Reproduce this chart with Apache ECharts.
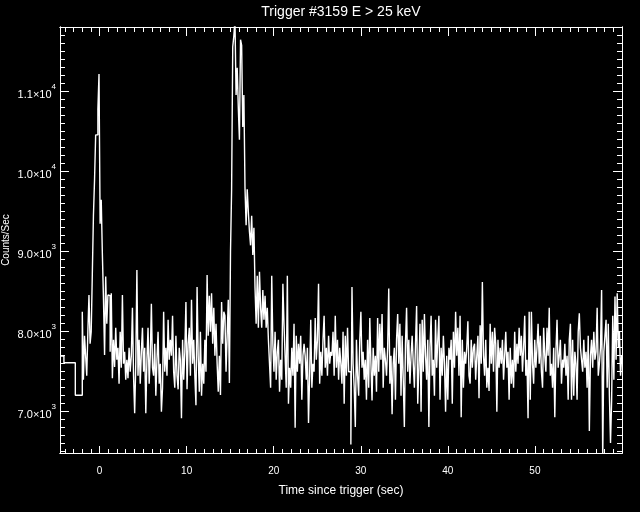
<!DOCTYPE html>
<html><head><meta charset="utf-8">
<script src="https://cdn.jsdelivr.net/npm/echarts@6/dist/echarts.min.js"></script>
<style>html,body{margin:0;padding:0;background:#000}#c{width:640px;height:512px}</style>
</head><body><div id="c"></div>
<script>
// ---- data ----
const titleText = 'Trigger #3159 E > 25 keV';
const xName = 'Time since trigger (sec)';
const yName = 'Counts/Sec';

// coarse pre-trigger bins (edges in s, rates in counts/s)
const preEdges = [-4.55, -4.1, -2.79, -1.99];
const preRate = [7696, 7613, 7205];

// fine bins after -1.99 s
const fineStart = -1.99;
const fineWidth = 0.128;
const rateA = [ // -1.99 .. 8.25 s
  8250, 7400, 7950, 7700, 7450, 8000, 8460, 7850,
  8000, 8720, 9450, 9900, 10460, 10460, 10780, 11220,
  9350, 9650, 8980, 8420, 7710, 8690, 8100, 8460,
  8450, 7750, 8480, 7420, 7900, 7560, 8050, 7650,
  7800, 7350, 8000, 7550, 8460, 7600, 7750, 7400,
  7650, 7420, 7800, 7500, 7700, 8300, 7450, 6980,
  7600, 8770, 7450, 7900, 7350, 7750, 8050, 7500,
  7800, 6980, 7650, 8050, 7350, 7700, 8350, 7550,
  7450, 7850, 7200, 7650, 8000, 7350, 7600, 7000,
  7300, 8250, 7500, 7800, 7450, 8150, 7650, 7900
];
const rateB = [ // 8.25 .. 18.49 s
  7700, 8200, 7500, 7300, 7950, 7450, 7280, 7800,
  7650, 6920, 7900, 7400, 7750, 8370, 7280, 7850,
  8050, 7450, 8400, 7600, 7900, 7450, 7080, 8560,
  7700, 7250, 8000, 7200, 7600, 7350, 7900, 7500,
  8710, 7950, 8450, 8000, 8480, 7850, 8300, 7700,
  8100, 7600, 7250, 7700, 7210, 8370, 7850, 8250,
  8200, 7500, 7950, 8400, 7360, 9000, 9780, 11560,
  11700, 11900, 10960, 11300, 10800, 10400, 11650, 11580,
  10560, 10960, 9800, 9330, 9780, 9500, 9250, 9080,
  9450, 8960, 9300, 8550, 8100, 8700, 8050, 8750
];
const rateC = [ // 18.49 .. 28.74 s
  8300, 8050, 8520, 8150, 8450, 8050, 8300, 7900,
  7600, 7300, 8700, 7850, 7500, 8000, 7400, 7750,
  7900, 7250, 7650, 7400, 8600, 8100, 7700, 7300,
  8700, 7100, 7550, 7300, 7800, 7450, 8100, 6800,
  7950, 7500, 7850, 7600, 7950, 7150, 7700, 7850,
  7700, 7400, 7800, 6860, 7450, 8150, 7300, 7600,
  7500, 8170, 7650, 7900, 8600, 7350, 7750, 7450,
  7900, 8200, 7550, 7800, 7450, 7950, 7600, 7750,
  7700, 8000, 7450, 8200, 7550, 7900, 7400, 7800,
  7600, 7350, 8000, 7100, 7950, 7450, 8050, 7500
];
const rateD = [ // 28.74 .. 38.99 s
  7500, 6590, 8560, 7600, 7300, 6810, 7900, 7450,
  7200, 7900, 8250, 7550, 7750, 7400, 7650, 7150,
  7900, 7300, 8170, 7600, 7140, 7800, 7450, 7700,
  7250, 8170, 7500, 8100, 7650, 8220, 7300, 7800,
  7650, 7450, 7800, 8540, 7350, 7700, 6970, 7600,
  7800, 7150, 7900, 8220, 7600, 8100, 7200, 7950,
  7400, 6810, 7850, 8300, 7500, 7900, 7350, 7700,
  7950, 7600, 7300, 7850, 8320, 7100, 7550, 8100,
  7000, 8150, 7500, 8220, 7700, 7400, 7900, 6810,
  7800, 8200, 7450, 7650, 7200, 8150, 7550, 7900
];
const rateE = [ // 38.99 .. 49.24 s
  8200, 7150, 7800, 7450, 7950, 7600, 7000, 7700,
  7150, 7800, 7650, 7900, 7100, 8000, 7550, 8250,
  7700, 8050, 7450, 8200, 6930, 7900, 7300, 7750,
  7600, 7800, 8130, 7450, 7350, 7900, 7550, 7800,
  7850, 7400, 7700, 7950, 7170, 8080, 7600, 8620,
  7700, 7450, 7900, 7300, 7550, 7260, 8100, 7600,
  8000, 7500, 8050, 7850, 7000, 7900, 7550, 7800,
  7600, 7900, 7400, 7700, 8000, 7550, 7750, 7150,
  7800, 7350, 7650, 7300, 8000, 7500, 7850, 7600,
  8050, 7700, 7950, 7500, 7800, 8200, 7450, 7650
];
const rateF = [ // 49.24 .. 60 s
  6920, 8250, 7150, 8250, 7600, 7350, 7900, 7550,
  7800, 8100, 7600, 7950, 7500, 7300, 8050, 7700,
  7500, 8050, 7700, 8300, 7450, 7600, 7300, 7800,
  6930, 7750, 8150, 7550, 7700, 7900, 7350, 7650,
  7550, 7850, 7450, 7700, 7150, 7900, 8100, 7150,
  7900, 7200, 7750, 7600, 7150, 8000, 8230, 7800,
  7650, 7500, 7900, 7550, 7750, 7300, 7950, 6760,
  7700, 7900, 7550, 8000, 7650, 7750, 8300, 7450,
  7600, 7800, 8520, 6400, 7750, 7950, 8150, 7300,
  8100, 7200, 6610, 7150, 8200, 7400, 8440, 7650,
  8480, 7800, 8000, 7450, 7700
];

// axes
const xMin = -4.55, xMax = 60;
const yMin = 6484, yMax = 11809;
const xMajor = [0, 10, 20, 30, 40, 50];
const yMajor = [7000, 8000, 9000, 10000, 11000];
const yMant = ['7.0', '8.0', '9.0', '1.0', '1.1'];
const yExp = ['3', '3', '3', '4', '4'];

// ---- build ----
const xMinor = []; for (let v = -4; v <= 60; v++) xMinor.push(v);
const yMinor = []; for (let v = 6500; v <= 11800; v += 100) yMinor.push(v);

const pts = [];
for (let i = 0; i < preRate.length; i++) {
  pts.push([preEdges[i], preRate[i]], [preEdges[i + 1], preRate[i]]);
}
const fine = rateA.concat(rateB, rateC, rateD, rateE, rateF);
fine.forEach((v, i) => {
  const s = fineStart + i * fineWidth;
  pts.push([s, v], [s + fineWidth, v]);
});

const FONT = 'Liberation Sans';
const W = '#ffffff';
function xAx(pos, vals, len, labels) {
  return {
    type: 'value', min: xMin, max: xMax, position: pos,
    axisLine: { show: true, onZero: false, lineStyle: { color: W, width: 1 } },
    axisTick: { show: true, inside: true, length: len, customValues: vals, lineStyle: { color: W, width: 1 } },
    axisLabel: labels ? { show: true, customValues: xMajor, color: W, fontSize: 10, fontFamily: FONT, margin: 13 } : { show: false },
    splitLine: { show: false },
    name: labels ? xName : '', nameLocation: 'middle', nameGap: 32, nameMoveOverlap: false,
    nameTextStyle: { color: W, fontSize: 12, fontFamily: FONT }
  };
}
function yAx(pos, vals, len, labels) {
  return {
    type: 'value', min: yMin, max: yMax, position: pos,
    axisLine: { show: true, onZero: false, lineStyle: { color: W, width: 1 } },
    axisTick: { show: true, inside: true, length: len, customValues: vals, lineStyle: { color: W, width: 1 } },
    axisLabel: labels ? {
      show: true, customValues: yMajor, margin: 4,
      formatter: function (v) { const i = yMajor.indexOf(v); return '{m|' + yMant[i] + '×10}{s|' + yExp[i] + '}'; },
      rich: {
        m: { color: W, fontSize: 11, fontFamily: FONT, lineHeight: 17, verticalAlign: 'bottom' },
        s: { color: W, fontSize: 8, fontFamily: FONT, lineHeight: 17, verticalAlign: 'top' }
      }
    } : { show: false },
    splitLine: { show: false },
    name: labels ? yName : '', nameLocation: 'middle', nameGap: 49, nameRotate: 90, nameMoveOverlap: false,
    nameTextStyle: { color: W, fontSize: 10, fontFamily: FONT }
  };
}

const chart = echarts.init(document.getElementById('c'), null, { renderer: 'canvas' });
chart.setOption({
  backgroundColor: '#000000',
  animation: false,
  title: {
    text: titleText, left: 341, top: 5, textAlign: 'center', padding: 0,
    textStyle: { color: W, fontSize: 14, fontWeight: 'normal', fontFamily: FONT }
  },
  grid: { left: 60, top: 27, width: 562, height: 426, containLabel: false, outerBoundsMode: 'none' },
  xAxis: [xAx('bottom', xMajor, 7, true), xAx('bottom', xMinor, 4, false), xAx('top', xMajor, 9, false), xAx('top', xMinor, 5, false)],
  yAxis: [yAx('left', yMajor, 9, true), yAx('left', yMinor, 5, false), yAx('right', yMajor, 9, false), yAx('right', yMinor, 5, false)],
  series: [{
    type: 'line', xAxisIndex: 0, yAxisIndex: 0, data: pts, showSymbol: false, symbol: 'none',
    clip: true, lineStyle: { color: W, width: 1.4 }
  }]
});
</script></body></html>
